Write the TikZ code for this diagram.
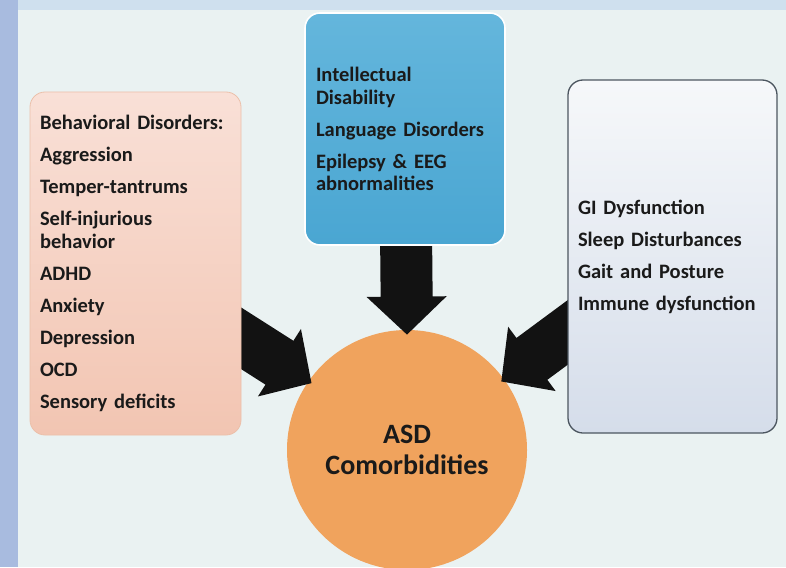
\documentclass[tikz,border=0pt]{standalone}
\usepackage{fontspec}
\setmainfont{Carlito}
\usetikzlibrary{calc}

\pgfdeclarelayer{back}
\pgfdeclarelayer{links}
\pgfsetlayers{back,links,main}

\definecolor{frameblue}{HTML}{CFE0EE}
\definecolor{stripblue}{HTML}{A8BBDF}
\definecolor{panel}{HTML}{EAF2F2}
\definecolor{pinktop}{HTML}{F9E0D7}
\definecolor{pinkbot}{HTML}{F2C5B2}
\definecolor{pinkline}{HTML}{EBC0AA}
\definecolor{bluetop}{HTML}{64B6DC}
\definecolor{bluebot}{HTML}{4AA6D2}
\definecolor{greytop}{HTML}{F6F8FA}
\definecolor{greybot}{HTML}{D5DDEA}
\definecolor{greyline}{HTML}{4C5660}
\definecolor{ballorange}{HTML}{F0A35D}
\definecolor{ink}{HTML}{1A1A1A}

\tikzset{
  listbox/.style={rectangle, rounded corners=15pt, align=left,
    inner ysep=0pt, text=ink, font=\fontsize{20.5}{22.5}\selectfont\bfseries},
  arrowfill/.style={fill=black!93},
}

% thick block arrow from #1 to the tip #2
\newcommand{\blockarrow}[2]{%
  \coordinate (ba-h) at ($(#2)!38pt!(#1)$);
  \fill[arrowfill]
    ($(#1)!26pt!90:(#2)$) -- ($(ba-h)!26pt!90:(#2)$) --
    ($(ba-h)!40pt!90:(#2)$) -- (#2) --
    ($(ba-h)!40pt!-90:(#2)$) -- ($(ba-h)!26pt!-90:(#2)$) --
    ($(#1)!26pt!-90:(#2)$) -- cycle;
}

\begin{document}
\begin{tikzpicture}[x=1pt, y=-1pt]
\useasboundingbox (0,0) rectangle (786,567);

\begin{pgfonlayer}{back}
  \fill[frameblue] (0,0) rectangle (786,567);
  \fill[stripblue] (0,0) rectangle (18,567);
  \fill[panel] (18,10) rectangle (786,567);
  \node[circle, fill=ballorange, minimum size=240pt, inner sep=0pt,
        text=ink, align=center, font=\fontsize{28}{31}\selectfont\bfseries]
        (asd) at (407,450) {ASD\\Comorbidities};
\end{pgfonlayer}

% the three groups of conditions
\node[listbox, top color=pinktop, bottom color=pinkbot, draw=pinkline,
      line width=0.8pt, minimum width=211pt, minimum height=343pt,
      text width=191pt, inner xsep=10pt]
  (behav) at (135.5,263.5)
  {Behavioral Disorders:\\[9.5pt]
   Aggression\\[9.5pt]
   Temper-tantrums\\[9.5pt]
   Self-injurious\\behavior\\[9.5pt]
   ADHD\\[9.5pt]
   Anxiety\\[9.5pt]
   Depression\\[9.5pt]
   OCD\\[9.5pt]
   Sensory deficits};

\node[listbox, top color=bluetop, bottom color=bluebot, draw=white,
      line width=1.6pt, minimum width=200pt, minimum height=232pt,
      text width=178pt, inner xsep=11pt]
  (neuro) at (405,129)
  {Intellectual\\Disability\\[9.5pt]
   Language Disorders\\[9.5pt]
   Epilepsy \& EEG\\abnormalities};

\node[listbox, top color=greytop, bottom color=greybot, draw=greyline,
      line width=1.3pt, minimum width=209pt, minimum height=353pt,
      text width=189pt, inner xsep=10pt]
  (medic) at (672.5,256.5)
  {GI Dysfunction\\[9.5pt]
   Sleep Disturbances\\[9.5pt]
   Gait and Posture\\[9.5pt]
   Immune dysfunction};

% arrow roots sit inside the boxes, tips just inside the circle
\coordinate (behav-out) at (214,321);
\coordinate (neuro-out) at (406,230);
\coordinate (medic-out) at (594,313);
\coordinate (asd-l) at ($(asd.center)!0.97!(asd.145)$);
\coordinate (asd-t) at ($(asd.center)!0.96!(asd.90)$);
\coordinate (asd-r) at ($(asd.center)!0.97!(asd.36)$);

\begin{pgfonlayer}{links}
  \blockarrow{behav-out}{asd-l}
  \blockarrow{neuro-out}{asd-t}
  \blockarrow{medic-out}{asd-r}
\end{pgfonlayer}
\end{tikzpicture}
\end{document}
